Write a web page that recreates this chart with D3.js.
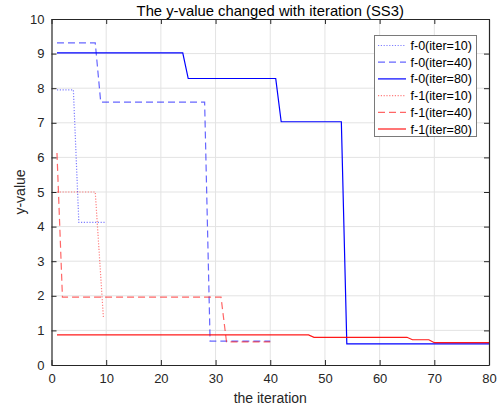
<!DOCTYPE html>
<html>
<head>
<meta charset="utf-8">
<script src="https://cdn.jsdelivr.net/npm/d3@7"></script>
<style>
  body { margin: 0; background: #fff; }
  svg { display: block; font-family: "Liberation Sans", Arial, sans-serif; }
</style>
</head>
<body>
<svg id="chart" width="503" height="411"></svg>
<script>
// Best-so-far objective value per iteration for each run
const f0_iter10_x = [1, 2, 3, 4, 5, 6, 7, 8, 9, 10];
const f0_iter10_y = [7.95, 7.95, 7.95, 7.95, 4.12, 4.12, 4.12, 4.12, 4.12, 4.12];

const f0_iter40_x = d3.range(1, 41);
const f0_iter40_y = [9.31, 9.31, 9.31, 9.31, 9.31, 9.31, 9.31, 9.31,
  7.6, 7.6, 7.6, 7.6, 7.6, 7.6, 7.6, 7.6, 7.6, 7.6, 7.6, 7.6,
  7.6, 7.6, 7.6, 7.6, 7.6, 7.6, 7.6, 7.6,
  0.69, 0.69, 0.69, 0.69, 0.69, 0.69, 0.69, 0.69, 0.69, 0.69, 0.69, 0.69];

const f0_iter80_x = d3.range(1, 81);
const f0_iter80_y = [
  9.02, 9.02, 9.02, 9.02, 9.02, 9.02, 9.02, 9.02, 9.02, 9.02,
  9.02, 9.02, 9.02, 9.02, 9.02, 9.02, 9.02, 9.02, 9.02, 9.02,
  9.02, 9.02, 9.02, 9.02, 8.28, 8.28, 8.28, 8.28, 8.28, 8.28,
  8.28, 8.28, 8.28, 8.28, 8.28, 8.28, 8.28, 8.28, 8.28, 8.28,
  8.28, 7.03, 7.03, 7.03, 7.03, 7.03, 7.03, 7.03, 7.03, 7.03,
  7.03, 7.03, 7.03, 0.61, 0.61, 0.61, 0.61, 0.61, 0.61, 0.61,
  0.61, 0.61, 0.61, 0.61, 0.61, 0.61, 0.61, 0.61, 0.61, 0.61,
  0.61, 0.61, 0.61, 0.61, 0.61, 0.61, 0.61, 0.61, 0.61, 0.61];

const f1_iter10_x = [1, 2, 3, 4, 5, 6, 7, 8, 9.5];
const f1_iter10_y = [5.0, 5.0, 5.0, 5.0, 5.0, 5.0, 5.0, 5.0, 1.35];

const f1_iter40_x = d3.range(1, 41);
const f1_iter40_y = [6.13,
  1.96, 1.96, 1.96, 1.96, 1.96, 1.96, 1.96, 1.96, 1.96, 1.96,
  1.96, 1.96, 1.96, 1.96, 1.96, 1.96, 1.96, 1.96, 1.96, 1.96,
  1.96, 1.96, 1.96, 1.96, 1.96, 1.96, 1.96, 1.96, 1.96, 1.96,
  0.67, 0.67, 0.67, 0.67, 0.67, 0.67, 0.67, 0.67, 0.67];

const f1_iter80_x = d3.range(1, 81);
const f1_iter80_y = [
  0.87, 0.87, 0.87, 0.87, 0.87, 0.87, 0.87, 0.87, 0.87, 0.87,
  0.87, 0.87, 0.87, 0.87, 0.87, 0.87, 0.87, 0.87, 0.87, 0.87,
  0.87, 0.87, 0.87, 0.87, 0.87, 0.87, 0.87, 0.87, 0.87, 0.87,
  0.87, 0.87, 0.87, 0.87, 0.87, 0.87, 0.87, 0.87, 0.87, 0.87,
  0.87, 0.87, 0.87, 0.87, 0.87, 0.87, 0.87, 0.80, 0.80, 0.80,
  0.80, 0.80, 0.80, 0.80, 0.80, 0.80, 0.80, 0.80, 0.80, 0.80,
  0.80, 0.80, 0.80, 0.80, 0.80, 0.73, 0.73, 0.73, 0.73, 0.645,
  0.645, 0.645, 0.645, 0.645, 0.645, 0.645, 0.645, 0.645, 0.645, 0.645];

const seriesNames = ["f-0(iter=10)", "f-0(iter=40)", "f-0(iter=80)",
                     "f-1(iter=10)", "f-1(iter=40)", "f-1(iter=80)"];
const xTicks = [0, 10, 20, 30, 40, 50, 60, 70, 80];
const yTicks = [0, 1, 2, 3, 4, 5, 6, 7, 8, 9, 10];

const series = [
  { name: seriesNames[0], xs: f0_iter10_x, ys: f0_iter10_y, color: "#0000ff", opacity: 0.5, dash: "1.2,1.6" },
  { name: seriesNames[1], xs: f0_iter40_x, ys: f0_iter40_y, color: "#0000ff", opacity: 0.6, dash: "7,4" },
  { name: seriesNames[2], xs: f0_iter80_x, ys: f0_iter80_y, color: "#0000ff", opacity: 1.0, dash: null },
  { name: seriesNames[3], xs: f1_iter10_x, ys: f1_iter10_y, color: "#ff0000", opacity: 0.5, dash: "1.2,1.6" },
  { name: seriesNames[4], xs: f1_iter40_x, ys: f1_iter40_y, color: "#ff0000", opacity: 0.6, dash: "7,4" },
  { name: seriesNames[5], xs: f1_iter80_x, ys: f1_iter80_y, color: "#ff0000", opacity: 0.9, dash: null }
];

const svg = d3.select("#chart");
const L = 51.5, R = 489, T = 19, B = 365;
const x = d3.scaleLinear().domain([0, 80]).range([L, R]);
const y = d3.scaleLinear().domain([0, 10]).range([B, T]);
const axisColor = "#262626";

// grid
const grid = svg.append("g");
grid.selectAll(".gx").data(xTicks.slice(1, -1)).join("line")
  .attr("x1", d => x(d)).attr("x2", d => x(d)).attr("y1", T).attr("y2", B)
  .attr("stroke", "#e3e3e3").attr("stroke-width", 1);
grid.selectAll(".gy").data(yTicks.slice(1, -1)).join("line")
  .attr("x1", L).attr("x2", R).attr("y1", d => y(d)).attr("y2", d => y(d))
  .attr("stroke", "#e3e3e3").attr("stroke-width", 1);

// data lines
const plot = svg.append("g");
series.forEach(s => {
  const pts = s.xs.map((xv, i) => [xv, s.ys[i]]);
  plot.append("path")
    .attr("d", d3.line().x(d => x(d[0])).y(d => y(d[1]))(pts))
    .attr("fill", "none")
    .attr("stroke", s.color)
    .attr("stroke-opacity", s.opacity)
    .attr("stroke-width", 1.2)
    .attr("stroke-dasharray", s.dash);
});

// axes with inward ticks on all four sides
const tickLen = 5;
const fmt = d3.format("d");
const axB = svg.append("g").attr("transform", `translate(0,${B})`)
  .call(d3.axisBottom(x).tickValues(xTicks).tickFormat(fmt).tickSizeInner(-tickLen).tickSizeOuter(0).tickPadding(9));
const axT = svg.append("g").attr("transform", `translate(0,${T})`)
  .call(d3.axisTop(x).tickValues(xTicks).tickFormat("").tickSizeInner(-tickLen).tickSizeOuter(0));
const axL = svg.append("g").attr("transform", `translate(${L},0)`)
  .call(d3.axisLeft(y).tickValues(yTicks).tickFormat(fmt).tickSizeInner(-tickLen).tickSizeOuter(0).tickPadding(7));
const axR = svg.append("g").attr("transform", `translate(${R},0)`)
  .call(d3.axisRight(y).tickValues(yTicks).tickFormat("").tickSizeInner(-tickLen).tickSizeOuter(0));
[axB, axT, axL, axR].forEach(a => {
  a.select(".domain").attr("stroke", axisColor).attr("stroke-width", 1.2);
  a.selectAll(".tick line").attr("stroke", axisColor);
  a.selectAll(".tick text").attr("fill", axisColor)
    .style("font-family", "Liberation Sans, Arial, sans-serif").style("font-size", "13px");
});

// title and axis labels
svg.append("text").attr("x", (L + R) / 2).attr("y", 16).attr("text-anchor", "middle")
  .attr("fill", "#000").style("font-size", "14.8px")
  .text("The y-value changed with iteration (SS3)");
svg.append("text").attr("x", (L + R) / 2).attr("y", 403).attr("text-anchor", "middle")
  .attr("fill", axisColor).style("font-size", "14px").text("the iteration");
svg.append("text").attr("transform", `translate(25,${(T + B) / 2}) rotate(-90)`)
  .attr("text-anchor", "middle").attr("fill", axisColor).style("font-size", "14px").text("y-value");

// legend
const leg = svg.append("g");
leg.append("rect").attr("x", 374.5).attr("y", 35.5).attr("width", 102).attr("height", 101)
  .attr("fill", "#fff").attr("stroke", "#7a7a7a").attr("stroke-width", 1);
series.forEach((s, i) => {
  const ry = 45.5 + i * 16.7;
  leg.append("line").attr("x1", 378).attr("x2", 406).attr("y1", ry).attr("y2", ry)
    .attr("stroke", s.color).attr("stroke-opacity", s.opacity)
    .attr("stroke-width", 1.2).attr("stroke-dasharray", s.dash);
  leg.append("text").attr("x", 410.5).attr("y", ry + 4.5).attr("fill", "#000")
    .style("font-size", "12.5px").text(s.name);
});
</script>
</body>
</html>
